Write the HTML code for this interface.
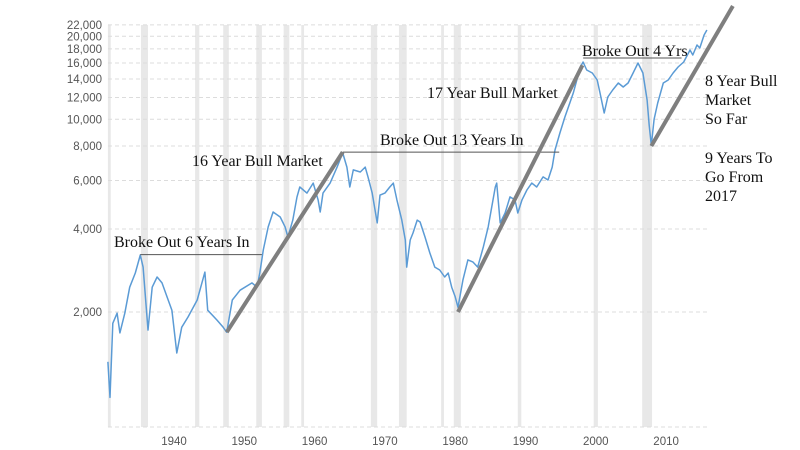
<!DOCTYPE html>
<html><head><meta charset="utf-8"><style>
html,body{margin:0;padding:0;background:#fff;}
svg{display:block;}
.ax{font-family:"Liberation Sans",sans-serif;font-size:11.5px;fill:#555;}
.an{font-family:"Liberation Serif",serif;font-size:16px;fill:#111;}
</style></head><body>
<svg id="chart" width="800" height="450" viewBox="0 0 800 450" xmlns="http://www.w3.org/2000/svg">
<g id="bands"></g>
<g id="grid"></g>
<g id="yaxis"></g>
<g id="xaxis"></g>
<g id="series"></g>
<g id="annot"></g>
</svg>
<script>
const years=[1930.6,1930.9,1931.3,1931.9,1932.3,1933.0,1933.7,1934.5,1935.2,1935.6,1936.3,1936.9,1937.6,1938.3,1939.0,1939.7,1940.4,1941.1,1942.0,1943.3,1944.4,1944.8,1946.1,1947.0,1947.5,1948.3,1949.4,1951.1,1951.8,1952.2,1952.7,1953.4,1954.1,1955.1,1955.8,1956.2,1956.9,1957.5,1957.9,1958.9,1959.8,1960.5,1960.8,1961.2,1962.2,1963.2,1964.0,1964.6,1965.0,1965.5,1966.5,1967.2,1967.6,1968.2,1968.9,1969.3,1970.0,1970.7,1971.2,1971.7,1972.4,1972.9,1973.1,1973.6,1974.0,1974.6,1975.0,1975.7,1976.4,1977.1,1977.8,1978.5,1979.0,1979.5,1980.0,1980.4,1981.1,1981.8,1982.5,1983.2,1984.0,1984.7,1985.7,1985.9,1986.4,1987.1,1987.8,1988.5,1988.9,1989.5,1990.2,1990.9,1991.6,1992.5,1993.2,1993.8,1994.2,1994.9,1995.6,1996.3,1996.8,1997.3,1997.8,1998.2,1998.7,1999.5,2000.2,2000.6,2001.2,2001.7,2002.4,2003.2,2003.9,2004.6,2005.3,2006.0,2006.7,2007.3,2007.6,2007.9,2008.3,2008.8,2009.6,2010.3,2011.0,2011.7,2012.5,2013.4,2013.8,2014.4,2014.8,2015.4,2015.8];
const values=[1320,980,1820,1980,1680,1980,2460,2770,3220,2910,1720,2460,2680,2550,2270,2030,1420,1760,1920,2210,2790,2030,1870,1760,1690,2210,2400,2550,2460,2770,3360,4070,4610,4420,4070,3740,4310,5230,5680,5400,5870,5100,4610,5400,5870,6710,7550,6710,5680,6550,6440,6710,6180,5400,4210,5310,5400,5680,5870,5100,4310,3650,2910,3650,3870,4310,4240,3740,3270,2910,2840,2680,2770,2460,2270,2080,2610,3090,3040,2910,3440,4070,5680,5870,4210,4570,5230,5100,4570,5100,5540,5870,5680,6180,6020,6710,7740,8920,10190,11460,12460,13880,15480,16130,15090,14720,13880,12460,10540,12040,12770,13540,13090,13540,14720,16000,14720,11750,9500,8050,10000,11460,13540,13880,14720,15480,16130,17840,17100,18600,18140,20210,21080];
const yTicks=[2000,4000,6000,8000,10000,12000,14000,16000,18000,20000,22000];
const yTickLabels=["2,000","4,000","6,000","8,000","10,000","12,000","14,000","16,000","18,000","20,000","22,000"];
const xTicks=[1940,1950,1960,1970,1980,1990,2000,2010];
const recStart=[1930.6,1935.3,1943.0,1947.0,1951.7,1955.6,1958.1,1968.0,1972.0,1978.0,1979.8,1988.9,1999.7,2006.6];
const recEnd=[1931.0,1936.3,1943.6,1947.8,1952.5,1956.4,1958.5,1968.9,1973.1,1978.4,1980.8,1989.4,2000.3,2008.0];
const trendX1=[1947.5,1980.4,2007.9];
const trendY1=[1690,2000,8000];
const trendX2=[1964.0,1998.1,2019.5];
const trendY2=[7600,15700,25760];
const hlX1=[1935.2,1964.0,1998.2];
const hlX2=[1952.5,1994.8,2012.2];
const hlY=[3230,7600,16680];

const NS="http://www.w3.org/2000/svg";
const L=108,R=708,T=25,B=427;
function xs(y){return 174+7.03*(y-1940);}
function ys(v){return 312-83*Math.log2(v/2000);}
function mk(tag,attrs,parent){const e=document.createElementNS(NS,tag);for(const k in attrs)e.setAttribute(k,attrs[k]);parent.appendChild(e);return e;}
const gB=document.getElementById('bands'),gG=document.getElementById('grid'),gY=document.getElementById('yaxis'),gX=document.getElementById('xaxis'),gS=document.getElementById('series'),gA=document.getElementById('annot');
recStart.forEach((s,i)=>{const r=mk('rect',{x:xs(s),y:T,width:xs(recEnd[i])-xs(s),height:B-T,fill:'#e8e8e8'},gB);

});
yTicks.forEach((v,i)=>{const y=ys(v);
const l=mk('line',{x1:L,x2:R,y1:y,y2:y,stroke:'#dcdcdc','stroke-dasharray':'4,3','stroke-width':1},gG);


const t=mk('text',{x:102,y:y+4,'text-anchor':'end',class:'ax'},gY);t.textContent=yTickLabels[i];

});
const bl=mk('line',{x1:L,x2:R,y1:B,y2:B,stroke:'#dcdcdc','stroke-dasharray':'4,3'},gG);


xTicks.forEach(v=>{const t=mk('text',{x:xs(v),y:445,'text-anchor':'middle',class:'ax'},gX);t.textContent=v;

});
const d=years.map((y,i)=>(i?'L':'M')+xs(y).toFixed(1)+','+ys(values[i]).toFixed(1)).join('');
const p=mk('path',{d:d,fill:'none',stroke:'#5b9bd5','stroke-width':1.5,'stroke-linejoin':'round'},gS);


hlX1.forEach((x,i)=>{const l=mk('line',{x1:xs(x),x2:xs(hlX2[i]),y1:ys(hlY[i]),y2:ys(hlY[i]),stroke:'#555','stroke-width':1},gA);

});
trendX1.forEach((x,i)=>{const l=mk('line',{x1:xs(x),y1:ys(trendY1[i]),x2:xs(trendX2[i]),y2:ys(trendY2[i]),stroke:'#7f7f7f','stroke-width':4},gA);

});
const labels=[["Broke Out 6 Years In",114,247],["16 Year Bull Market",192,166],["Broke Out 13 Years In",380,145],["17 Year Bull Market",427,98],["Broke Out 4 Yrs",582,56],["8 Year Bull",705,86],["Market",705,105],["So Far",705,124],["9 Years To",705,163],["Go From",705,182],["2017",705,201]];
labels.forEach(a=>{const t=mk('text',{x:a[1],y:a[2],class:'an'},gA);t.textContent=a[0];

});
</script>
</body></html>
